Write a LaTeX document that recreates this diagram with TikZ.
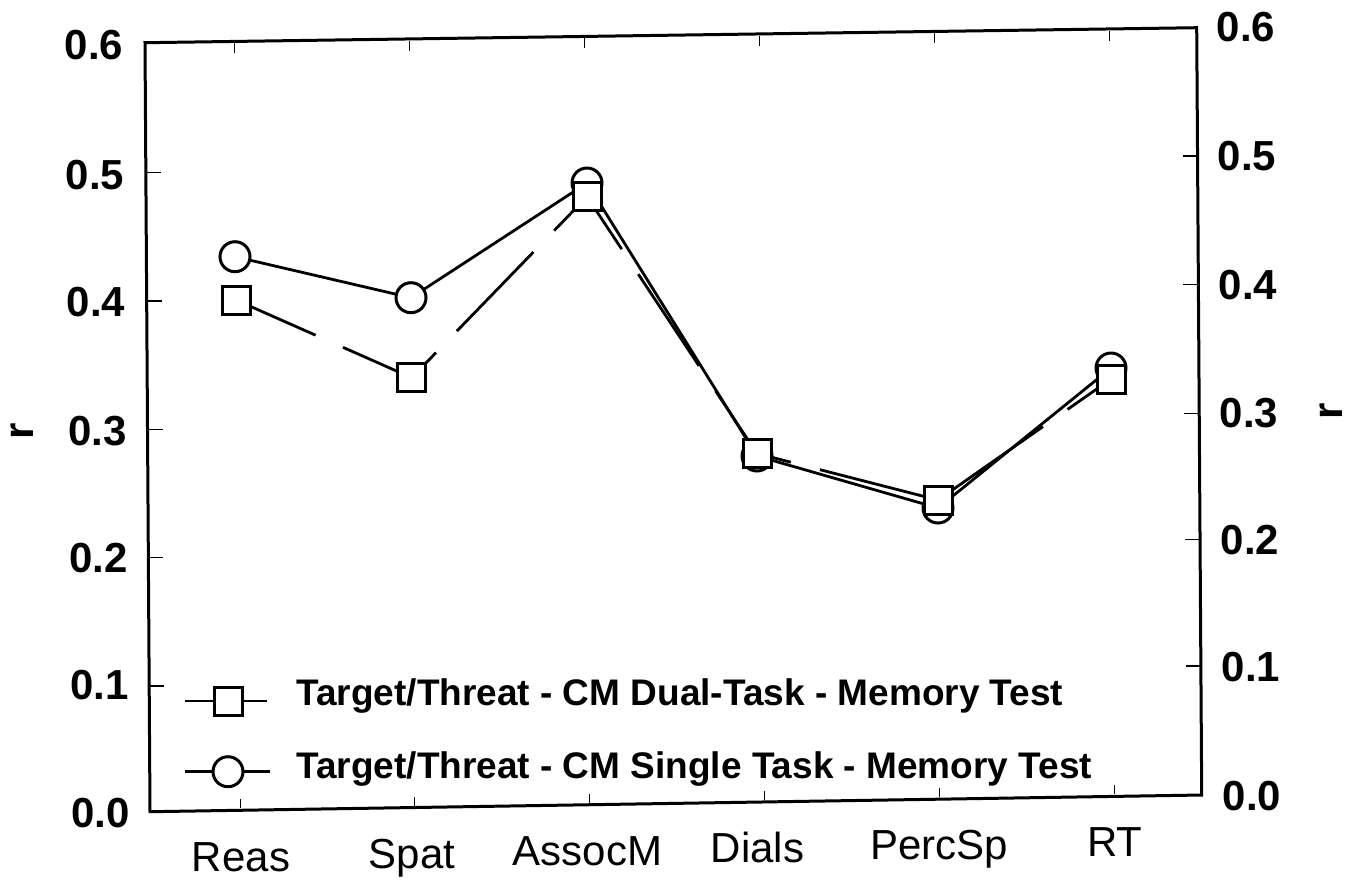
\documentclass[tikz,border=0pt]{standalone}
\usepackage{fontspec}
\setmainfont{Liberation Sans}
\usetikzlibrary{backgrounds}
\begin{document}
\begin{tikzpicture}[x={(0.5pt,0)}, y={(0,-0.5pt)},
  frame/.style={line width=1.5pt, line join=miter},
  tickline/.style={line width=0.7pt},
  minortick/.style={line width=0.45pt},
  ticklab/.style={font=\fontsize{21}{25}\selectfont\bfseries, inner sep=0pt},
  catlab/.style={font=\fontsize{21}{25}\selectfont, inner sep=0pt, anchor=base},
  axlab/.style={font=\fontsize{21}{25}\selectfont\bfseries, inner sep=0pt, rotate=90},
  leglab/.style={font=\fontsize{18.5}{22}\selectfont\bfseries, inner sep=0pt, anchor=base west},
  sqm/.style={draw, fill=white, rectangle, line width=1.5pt, minimum size=14pt, inner sep=0pt},
  circm/.style={draw, fill=white, circle, line width=1.5pt, minimum size=15pt, inner sep=0pt},
  solidser/.style={line width=1.4pt, line join=round},
  dashser/.style={line width=1.4pt, dash pattern=on 55pt off 15pt, dash phase=11.5pt},
]
\useasboundingbox (0,0) rectangle (1354,880);

% frame (slightly skewed like the scan)
\coordinate (TL) at (145,42.7);
\coordinate (TR) at (1196.7,27.7);
\coordinate (BR) at (1201.7,795);
\coordinate (BL) at (150,811.7);
\draw[frame] (TL) -- (TR) -- (BR) -- (BL) -- cycle;

% left ticks
\foreach \yy/\xx in {172.7/145.8, 301/146.7, 429.3/147.5, 557.6/148.4, 686/149.2}
  \draw[tickline] (\xx,\yy) -- ++(15,0);
% right ticks
\foreach \yy/\xx in {156/1197.5, 284.7/1198.4, 413.3/1199.2, 539.7/1200, 666/1200.9}
  \draw[tickline] (\xx,\yy) -- ++(-15,0);
% faint category ticks
\foreach \xx/\yy in {234/41.4, 409/38.9, 584/36.4, 759/33.9, 934/31.4, 1109/29.0}
  \draw[minortick] (\xx,\yy+2) -- ++(0,10);
\foreach \xx/\yy in {240/810.3, 414.8/807.5, 589.6/804.7, 764.4/801.9, 939.2/799.2, 1114/796.4}
  \draw[minortick] (\xx,\yy-2) -- ++(0,-9);

% left tick labels
\node[ticklab, anchor=east] (l6) at (123.5,45) {0.6};
\node[ticklab, anchor=east] (l5) at (124.6,175) {0.5};
\node[ticklab, anchor=east] (l4) at (125.7,302) {0.4};
\node[ticklab, anchor=east] (l3) at (126.8,431) {0.3};
\node[ticklab, anchor=east] (l2) at (127.9,558) {0.2};
\node[ticklab, anchor=east] (l1) at (129,685) {0.1};
\node[ticklab, anchor=east] (l0) at (130.1,813) {0.0};
% right tick labels
\node[ticklab, anchor=west] (r6) at (1216.3,27) {0.6};
\node[ticklab, anchor=west] (r5) at (1217.3,156) {0.5};
\node[ticklab, anchor=west] (r4) at (1218.3,284.7) {0.4};
\node[ticklab, anchor=west] (r3) at (1219.3,413) {0.3};
\node[ticklab, anchor=west] (r2) at (1220.3,539.7) {0.2};
\node[ticklab, anchor=west] (r1) at (1221.3,667) {0.1};
\node[ticklab, anchor=west] (r0) at (1222.3,796) {0.0};

% axis titles
\node[axlab] (ylabL) at (22,431.7) {r};
\node[axlab] (ylabR) at (1331,411.7) {r};

% category labels
\node[catlab] (cReas) at (241,871.7) {Reas};
\node[catlab] (cSpat) at (412,868.8) {Spat};
\node[catlab] (cAssoc) at (587.5,865.8) {AssocM};
\node[catlab] (cDials) at (757.5,862.9) {Dials};
\node[catlab] (cPerc) at (939,859.8) {PercSp};
\node[catlab] (cRT) at (1115,856.7) {RT};

% data markers: single task (circles) below, dual task (squares) on top
\node[circm] (c1) at (235,256.7) {};
\node[circm] (c2) at (411,297.7) {};
\node[circm] (c3) at (587,183) {};
\node[circm] (c4) at (757,456) {};
\node[circm] (c5) at (938,508) {};
\node[circm] (c6) at (1111,368) {};
\node[sqm] (s1) at (236,300) {};
\node[sqm] (s2) at (411.7,377.7) {};
\node[sqm] (s3) at (587,196.7) {};
\node[sqm] (s4) at (757,453.5) {};
\node[sqm] (s5) at (938,500) {};
\node[sqm] (s6) at (1111,379) {};

% legend
\coordinate (lsA) at (185,701);
\coordinate (lsB) at (267,701);
\node[sqm] (ls) at (228,701) {};
\coordinate (lcA) at (185,771.7);
\coordinate (lcB) at (270,771.7);
\node[circm] (lc) at (228,771.7) {};
\node[leglab] (lt1) at (296,705) {Target/Threat - CM Dual-Task - Memory Test};
\node[leglab] (lt2) at (296,778.3) {Target/Threat - CM Single Task - Memory Test};

\begin{scope}[on background layer]
  \draw[solidser] (c1.center) -- (c2.center) -- (c3.center) -- (c4.center) -- (c5.center) -- (c6.center);
  \draw[dashser] (s1.center) -- (s2.center) -- (s3.center) -- (s4.center) -- (s5.center) -- (s6.center);
  \draw[solidser] (lsA) -- (lsB);
  \draw[solidser] (lcA) -- (lcB);
\end{scope}
\end{tikzpicture}
\end{document}
